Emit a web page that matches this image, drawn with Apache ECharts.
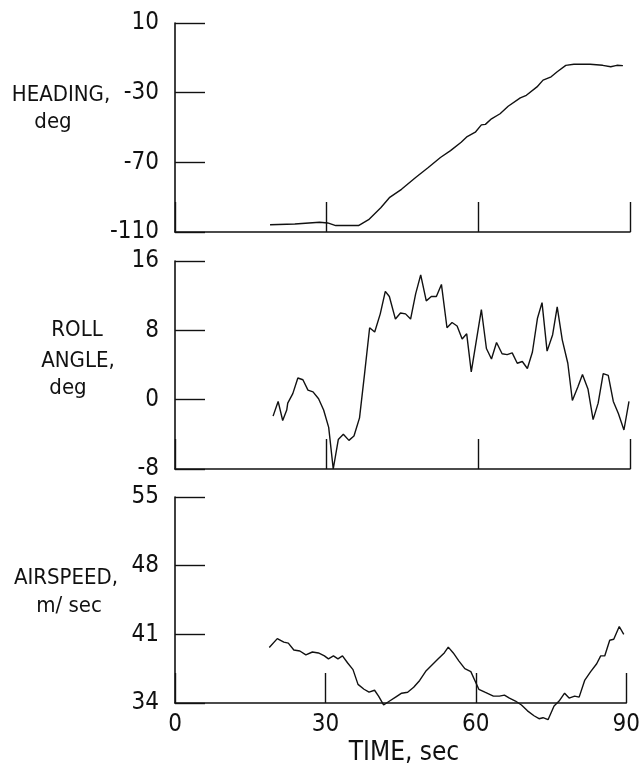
<!DOCTYPE html>
<html>
<head>
<meta charset="utf-8">
<script src="https://cdn.jsdelivr.net/npm/echarts@6/dist/echarts.min.js"></script>
<style>
  html, body { margin: 0; padding: 0; background: #fff; }
  #chart { width: 643px; height: 767px; }
</style>
</head>
<body>
<div id="chart"></div>
<script>
// Flight record: heading, roll angle and airspeed against time
const headingTime = [18.8, 23.7, 28.6, 30.2, 31.8, 36.3, 38.3, 40.7, 42.4, 44.8, 47.6, 50.1, 52.5, 54.5, 56.6, 57.8, 59.4, 60.6, 61.4, 62.6, 64.3, 65.9, 68.3, 69.5, 71.6, 72.8, 74.4, 75.6, 77.3, 78.9, 82.1, 84.6, 86.2, 87.4, 88.6];
const headingDeg = [-105.8, -105.4, -104.4, -104.8, -106.3, -106.3, -102.9, -96.1, -90.3, -85.5, -78.7, -73.0, -67.2, -63.3, -58.5, -55.2, -52.7, -48.5, -48.2, -45.0, -42.1, -37.8, -33.0, -31.5, -26.7, -22.8, -20.9, -18.0, -14.3, -13.7, -13.7, -14.3, -15.1, -14.3, -14.5];

const rollTime = [19.4, 20.4, 21.3, 22.1, 22.3, 23.3, 24.3, 25.3, 26.3, 27.3, 28.4, 29.4, 30.4, 31.3, 32.3, 33.3, 34.4, 35.4, 36.5, 37.5, 38.5, 39.5, 40.6, 41.6, 42.4, 43.6, 44.6, 45.6, 46.6, 47.6, 48.6, 49.7, 50.7, 51.7, 52.7, 53.8, 54.8, 55.8, 56.8, 57.7, 58.6, 60.6, 61.6, 62.6, 63.6, 64.7, 65.7, 66.7, 67.7, 68.7, 69.7, 70.7, 71.7, 72.6, 73.6, 74.7, 75.6, 76.6, 77.7, 78.6, 79.7, 80.6, 81.7, 82.7, 83.7, 84.7, 85.7, 86.7, 87.7, 88.8, 89.8];
const rollDeg = [-1.9, -0.2, -2.4, -1.2, -0.4, 0.7, 2.5, 2.3, 1.1, 0.9, 0.1, -1.2, -3.2, -8.0, -4.6, -4.0, -4.7, -4.2, -2.1, 3.0, 8.3, 7.8, 9.9, 12.5, 11.9, 9.3, 10.0, 9.9, 9.3, 12.2, 14.4, 11.4, 11.9, 11.9, 13.3, 8.3, 8.9, 8.5, 7.0, 7.6, 3.2, 10.4, 5.9, 4.7, 6.6, 5.3, 5.2, 5.4, 4.2, 4.4, 3.6, 5.5, 9.4, 11.2, 5.6, 7.5, 10.7, 6.9, 4.2, -0.1, 1.5, 2.9, 1.2, -2.3, -0.4, 3.0, 2.8, -0.2, -1.6, -3.5, -0.2];

const airTime = [18.8, 20.4, 21.7, 22.6, 23.7, 24.9, 26.1, 27.4, 28.6, 29.8, 30.6, 31.6, 32.5, 33.4, 34.4, 35.5, 36.5, 37.7, 38.7, 39.8, 40.6, 41.6, 42.8, 44.0, 45.2, 46.4, 47.6, 48.8, 50.1, 51.3, 52.5, 53.7, 54.5, 55.5, 56.6, 57.8, 59.0, 59.8, 60.6, 61.8, 63.5, 64.7, 65.7, 66.7, 67.9, 69.1, 70.3, 71.6, 72.6, 73.4, 74.4, 75.6, 76.6, 77.7, 78.6, 79.7, 80.6, 81.7, 82.9, 84.1, 84.9, 85.7, 86.7, 87.5, 88.6, 89.5];
const airSpeed = [39.65, 40.56, 40.2, 40.1, 39.4, 39.3, 38.9, 39.2, 39.1, 38.8, 38.5, 38.8, 38.5, 38.8, 38.1, 37.4, 35.9, 35.4, 35.1, 35.3, 34.7, 33.8, 34.2, 34.6, 35.0, 35.1, 35.6, 36.3, 37.3, 37.9, 38.5, 39.1, 39.7, 39.1, 38.3, 37.5, 37.2, 36.3, 35.4, 35.1, 34.7, 34.7, 34.8, 34.5, 34.2, 33.8, 33.2, 32.7, 32.4, 32.5, 32.3, 33.7, 34.2, 35.0, 34.5, 34.7, 34.6, 36.3, 37.2, 38.0, 38.8, 38.8, 40.4, 40.5, 41.8, 41.0];

const timeTicks = [0, 30, 60, 90];

const FONT = "'Liberation Sans Narrow', 'DejaVu Sans Condensed', 'Roboto Condensed', sans-serif";
const INK = '#111';

const pairs = (xs, ys) => xs.map((x, i) => [x, ys[i]]);

const grids = [
  { left: 175, top: 23, width: 455, height: 209 },
  { left: 175, top: 261, width: 455, height: 208 },
  { left: 175, top: 497, width: 455, height: 206 }
];

const yRanges = [
  { min: -110, max: 10, interval: 40 },
  { min: -8, max: 16, interval: 8 },
  { min: 34, max: 55, interval: 7 }
];

const xAxes = grids.map((g, i) => ({
  type: 'value',
  gridIndex: i,
  min: timeTicks[0],
  max: timeTicks[timeTicks.length - 1],
  interval: timeTicks[1] - timeTicks[0],
  axisLine: { show: true, onZero: false, lineStyle: { color: INK, width: 1.6 } },
  axisTick: { show: true, inside: true, length: 30, lineStyle: { color: INK, width: 1.4 } },
  splitLine: { show: false },
  axisLabel: {
    show: i === 2,
    margin: 10,
    color: INK,
    fontFamily: FONT,
    fontSize: 24
  }
}));

const yAxes = yRanges.map((r, i) => ({
  type: 'value',
  gridIndex: i,
  min: r.min,
  max: r.max,
  interval: r.interval,
  axisLine: { show: true, lineStyle: { color: INK, width: 1.6 } },
  axisTick: { show: true, inside: true, length: 30, lineStyle: { color: INK, width: 1.4 } },
  splitLine: { show: false },
  axisLabel: {
    margin: 16,
    color: INK,
    fontFamily: FONT,
    fontSize: 24
  }
}));

const lineSeries = (idx, data) => ({
  type: 'line',
  xAxisIndex: idx,
  yAxisIndex: idx,
  data: data,
  showSymbol: false,
  symbol: 'none',
  clip: false,
  silent: true,
  animation: false,
  lineStyle: { color: INK, width: 1.4 }
});

const label = (text, x, y, size) => ({
  type: 'text',
  x: x,
  y: y,
  style: {
    text: text,
    fill: INK,
    font: size + 'px ' + FONT,
    textAlign: 'center',
    textVerticalAlign: 'middle'
  }
});

const chart = echarts.init(document.getElementById('chart'), null, { renderer: 'canvas' });
chart.setOption({
  animation: false,
  backgroundColor: '#ffffff',
  grid: grids,
  xAxis: xAxes,
  yAxis: yAxes,
  series: [
    lineSeries(0, pairs(headingTime, headingDeg)),
    lineSeries(1, pairs(rollTime, rollDeg)),
    lineSeries(2, pairs(airTime, airSpeed))
  ],
  graphic: [
    label('HEADING,', 61, 95, 22),
    label('deg', 53, 122, 22),
    label('ROLL', 77, 330, 22),
    label('ANGLE,', 78, 361, 22),
    label('deg', 68, 388, 22),
    label('AIRSPEED,', 66, 578, 22),
    label('m/ sec', 69, 606, 22),
    label('TIME, sec', 404, 753, 26)
  ]
});
</script>
</body>
</html>
